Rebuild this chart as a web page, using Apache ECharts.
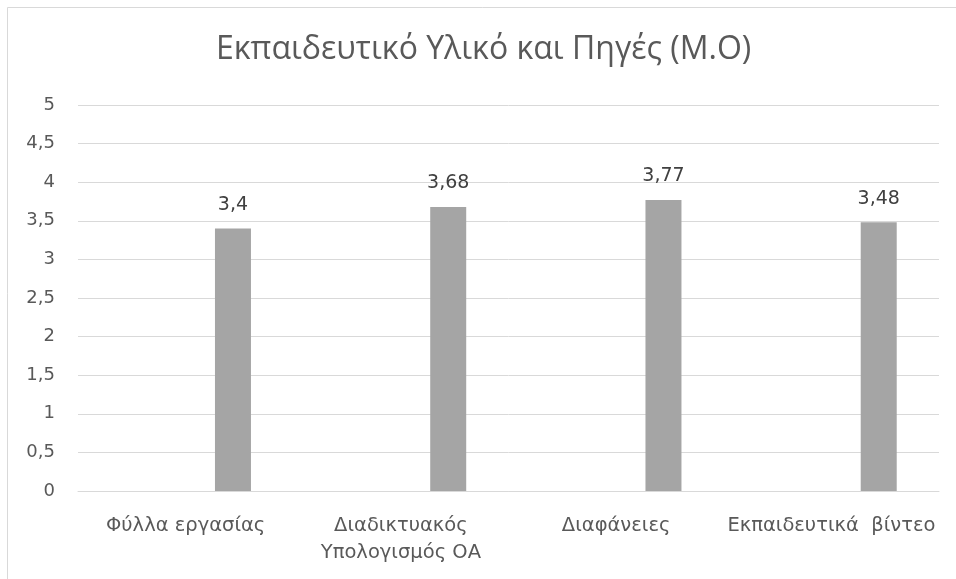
<!DOCTYPE html>
<html>
<head>
<meta charset="utf-8">
<script src="https://cdn.jsdelivr.net/npm/echarts@6/dist/echarts.min.js"></script>
<style>
  html, body { margin: 0; padding: 0; background: #fff; }
  #chart { width: 956px; height: 579px; }
</style>
</head>
<body>
<div id="chart"></div>
<script>
// Mean scores per teaching resource
const categories = ['Φύλλα εργασίας', 'Διαδικτυακός\nΥπολογισμός ΟΑ', 'Διαφάνειες', 'Εκπαιδευτικά  βίντεο'];
const emptySeries = [null, null, null, null];
const meanValues = [3.4, 3.68, 3.77, 3.48];
const yTicks = { min: 0, max: 5, interval: 0.5 };
const titleText = 'Εκπαιδευτικό Υλικό και Πηγές (Μ.Ο)';

const fmt = v => String(v).replace('.', ',');

const chart = echarts.init(document.getElementById('chart'));
chart.setOption({
  backgroundColor: '#ffffff',
  animation: false,
  title: {
    text: titleText,
    left: 216,
    top: 34,
    padding: 0,
    textStyle: { fontFamily: 'Open Sans', fontWeight: 'normal', fontSize: 32, color: '#595959' }
  },
  graphic: [{
    type: 'polyline',
    shape: { points: [[7.5, 600], [7.5, 7.5], [970, 7.5]] },
    style: { stroke: '#d9d9d9', lineWidth: 1, fill: null },
    silent: true
  }],
  grid: { left: 78, right: 17, top: 105, bottom: 88 },
  xAxis: {
    type: 'category',
    data: categories,
    axisLine: { show: true, lineStyle: { color: '#d9d9d9', width: 1 } },
    axisTick: { show: false },
    axisLabel: {
      color: '#595959', fontFamily: 'DejaVu Sans', fontSize: 19.5,
      lineHeight: 27, margin: 21, interval: 0
    }
  },
  yAxis: {
    type: 'value',
    min: yTicks.min, max: yTicks.max, interval: yTicks.interval,
    axisLine: { show: false },
    axisTick: { show: false },
    splitLine: { lineStyle: { color: '#d9d9d9', width: 1 } },
    axisLabel: {
      color: '#595959', fontFamily: 'DejaVu Sans', fontSize: 18, margin: 23,
      formatter: fmt
    }
  },
  series: [
    {
      type: 'bar',
      data: emptySeries,
      barWidth: 36,
      barGap: '163%',
      itemStyle: { color: '#5b9bd5' }
    },
    {
      type: 'bar',
      data: meanValues,
      barWidth: 36,
      barGap: '163%',
      itemStyle: { color: '#a5a5a5' },
      label: {
        show: true, position: 'top', distance: 14,
        color: '#404040', fontFamily: 'DejaVu Sans', fontSize: 19,
        formatter: p => fmt(p.value)
      }
    }
  ]
});
</script>
</body>
</html>
